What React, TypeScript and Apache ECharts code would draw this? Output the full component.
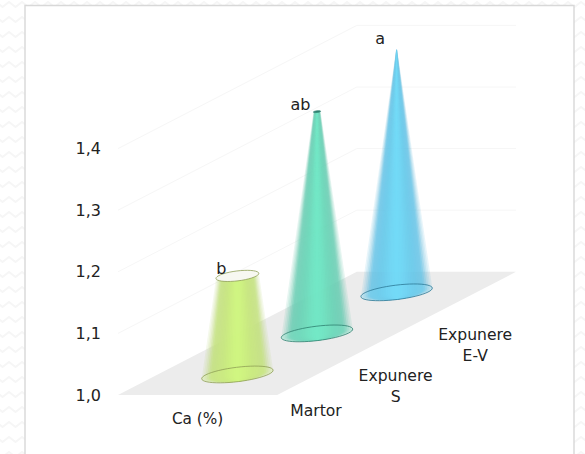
import React, { useEffect, useRef } from "react";
import * as echarts from "echarts";

const groups = ["Martor", "Expunere\nS", "Expunere\nE-V"];
const values = [1.16, 1.36, 1.394];
const letters = ["b", "ab", "a"];
const yTicks = [1.0, 1.1, 1.2, 1.3, 1.4];
const axisTitle = "Ca (%)";

const edgeColors = [[186, 214, 118], [92, 192, 166], [92, 184, 220]];
const midColors = [[214, 252, 132], [122, 238, 204], [118, 224, 254]];
const outlines = ["#8f9f55", "#2f8070", "#2c7896"];
const FONT = "DejaVu Sans";
const TILT = (-7 * Math.PI) / 180;

const floorDepth = (d: number) => [3 * d, 0.2 * d];

function zigzagRows() {
  const rows: any[] = [];
  for (let y = 2; y < 454; y += 15) {
    const pts: number[][] = [];
    for (let x = -4, i = 0; x < 595; x += 6.5, i++) pts.push([x, y + (i % 2 ? 5 : 0)]);
    rows.push({
      type: "polyline", z: -20, silent: true, shape: { points: pts },
      style: { stroke: "#f6f6f6", lineWidth: 2, fill: "none" },
    });
  }
  return rows;
}

function ellipsePts(cx: number, cy: number, rx: number, ry: number, from: number, to: number, n = 28) {
  const out: number[][] = [];
  for (let k = 0; k <= n; k++) {
    const t = from + ((to - from) * k) / n;
    const ex = rx * Math.cos(t);
    const ey = ry * Math.sin(t);
    out.push([cx + ex * Math.cos(TILT) - ey * Math.sin(TILT), cy + ex * Math.sin(TILT) + ey * Math.cos(TILT)]);
  }
  return out;
}

function renderWalls(_p: any, api: any) {
  const children: any[] = [];
  const pt = (x: number, y: number, d: number) => {
    const [dx, dy] = floorDepth(d);
    return api.coord([x + dx, y + dy]);
  };
  children.push({
    type: "polygon",
    shape: { points: [pt(0, 1, 0), pt(2, 1, 0), pt(2, 1, 1), pt(0, 1, 1)] },
    style: { fill: "#ececec" },
  });
  yTicks.forEach((t) => {
    if (t === 1.0) return;
    children.push({
      type: "polyline",
      shape: { points: [pt(0, t, 0), pt(0, t, 1), pt(2, t, 1)] },
      style: { stroke: "#f6f6f6", lineWidth: 1, fill: "none" },
    });
  });
  return { type: "group", children };
}

function renderCone(p: any, api: any) {
  const i = p.dataIndex;
  const value = api.value(1);
  const d = (i + 0.5) / 3;
  const [dx, dy] = floorDepth(d);
  const base = api.coord([1 + dx, 1 + dy]);
  const top = api.coord([1 + dx, value + dy]);
  const cx = base[0];
  const unit = api.coord([1, 1])[0] - api.coord([0, 1])[0];
  const rb = unit * 0.452;
  const ryb = rb * 0.2;
  const k = 1 - (value - 1) / 0.4;
  const rt = rb * k;
  const ryt = ryb * k * 1.15;
  const children: any[] = [];
  const N = 20;
  let prevA = 0;
  const edge = edgeColors[i];
  const mid = midColors[i];
  for (let l = 0; l < N; l++) {
    const u = 1 - l / N;
    const inward = 1 - u;
    const s = Math.min(1, inward / 0.28);
    const A = 0.78 * s * s * (3 - 2 * s) + 0.05;
    const m = Math.min(1, inward / 0.7);
    const c = edge.map((e, j) => Math.round(e + (mid[j] - e) * m));
    const a = Math.max(0.14, 1 - (1 - A) / (1 - prevA));
    prevA = A;
    const lower = ellipsePts(cx, base[1], rb * u, ryb, Math.PI, 0);
    const upper = ellipsePts(cx, top[1], rt * u, ryt, 0, Math.PI);
    children.push({
      type: "polygon",
      shape: { points: lower.concat(upper) },
      style: { fill: `rgb(${c.join(",")})`, opacity: a },
    });
  }
  children.push({
    type: "polygon",
    shape: { points: ellipsePts(cx, base[1], rb, ryb, 0, Math.PI * 2, 48) },
    style: { fill: `rgba(${mid.join(",")},0.2)`, stroke: outlines[i], lineWidth: 0.8 },
  });
  if (rt > 1.5) {
    children.push({
      type: "polygon",
      shape: { points: ellipsePts(cx, top[1], rt, ryt, 0, Math.PI * 2, 36) },
      style: { fill: k > 0.3 ? "#f7f8f1" : outlines[i], stroke: outlines[i], lineWidth: 0.8 },
    });
  }
  const letterX = [cx - 16, cx - 16.5, cx - 16.5][i];
  const letterY = [top[1] - 7, top[1] - 7, top[1] - 11][i];
  children.push({
    type: "text",
    style: { text: letters[i], x: letterX, y: letterY, fill: "#222", font: `16px "${FONT}"`, align: "center", verticalAlign: "middle" },
  });
  const two = groups[i].includes("\n");
  children.push({
    type: "text",
    style: {
      text: groups[i], x: cx + unit - 1, y: base[1] + (two ? 53 : 37), fill: "#222",
      font: `15.6px "${FONT}"`, lineHeight: 21, align: "center", verticalAlign: "middle",
    },
  });
  if (i === 0) {
    children.push({
      type: "text",
      style: { text: axisTitle, x: cx - unit / 2, y: base[1] + 45, fill: "#222", font: `15.3px "${FONT}"`, align: "center", verticalAlign: "middle" },
    });
  }
  return { type: "group", children };
}

export default function App() {
  const ref = useRef<HTMLDivElement>(null);
  useEffect(() => {
    document.body.style.margin = "0";
    const chart = echarts.init(ref.current!, null, { renderer: "svg" });
    chart.setOption({
      animation: false,
      backgroundColor: "#fff",
      graphic: [
        ...zigzagRows(),
        {
          type: "rect", z: -10, silent: true,
          shape: { x: 25, y: 5.5, width: 549, height: 460 },
          style: { fill: "#fff", stroke: "#d8d8d8", lineWidth: 1.4 },
        },
      ],
      grid: { left: 118, right: 69, top: 25.4, bottom: 59 },
      xAxis: { type: "value", min: 0, max: 5, show: false },
      yAxis: {
        type: "value", min: 1.0, max: 1.6, interval: 0.1,
        axisLine: { show: false }, axisTick: { show: false }, splitLine: { show: false },
        axisLabel: {
          margin: 17, color: "#222", fontFamily: FONT, fontSize: 16, padding: [4, 0, 0, 0],
          formatter: (v: number) => (v <= 1.41 ? v.toFixed(1).replace(".", ",") : ""),
        },
      },
      series: [
        { type: "custom", coordinateSystem: "cartesian2d", clip: false, silent: true, z: 1, renderItem: renderWalls, data: [[0, 1]], encode: { x: 0, y: 1 } },
        {
          type: "custom", coordinateSystem: "cartesian2d", clip: false, silent: true, z: 2, renderItem: renderCone,
          data: values.map((v, i) => [i + 1.5, v]), encode: { x: 0, y: 1 },
        },
      ],
    });
    return () => chart.dispose();
  }, []);
  return <div ref={ref} style={{ width: 585, height: 454 }} />;
}
